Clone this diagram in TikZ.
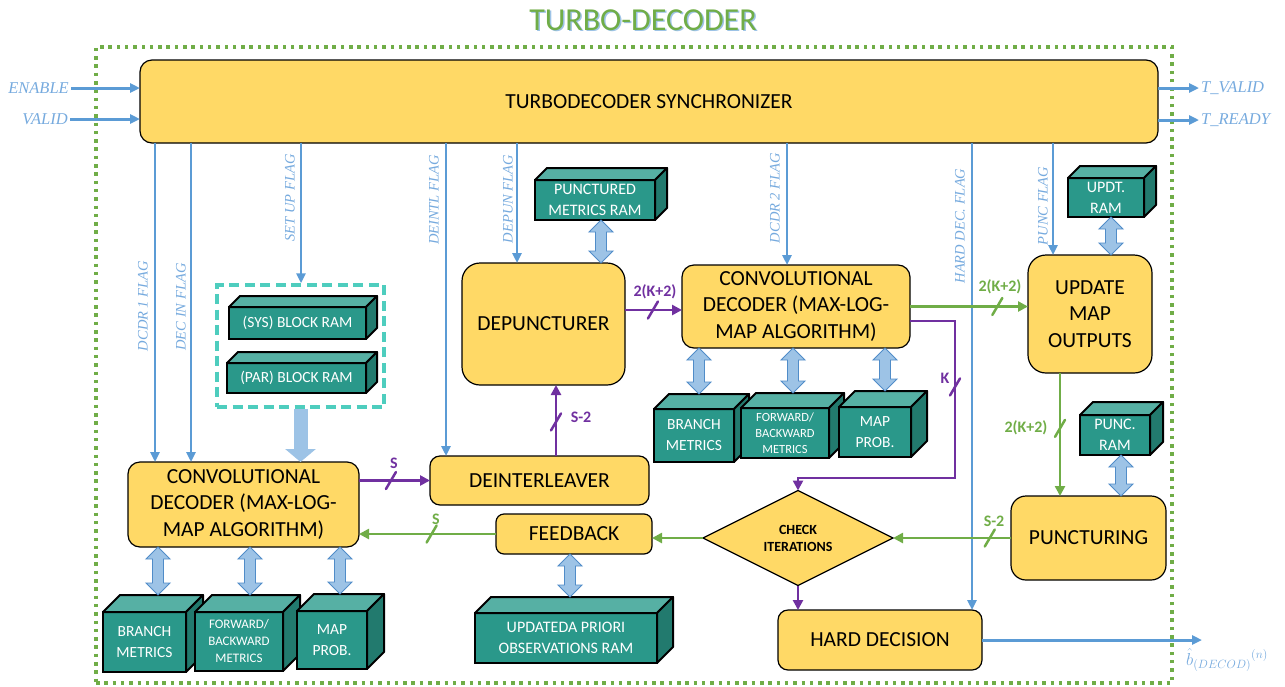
\documentclass[tikz,border=0pt]{standalone}
\usepackage{fontspec}
\newfontfamily\boxfont{Carlito}
\newfontfamily\flagfont{Liberation Serif}
\usetikzlibrary{arrows.meta,shapes.geometric,calc}

\definecolor{yfill}{RGB}{255,217,102}
\definecolor{tealF}{RGB}{42,152,138}
\definecolor{tealT}{RGB}{86,176,164}
\definecolor{tealS}{RGB}{34,122,110}
\definecolor{flagblue}{RGB}{91,155,213}
\definecolor{flagtext}{RGB}{118,170,222}
\definecolor{dblfill}{RGB}{157,195,230}
\definecolor{dbledge}{RGB}{80,140,200}
\definecolor{dpurple}{RGB}{112,48,160}
\definecolor{dgreen}{RGB}{112,173,71}
\definecolor{turq}{RGB}{78,205,190}

% 3-D RAM block: [extra options] name, centre x, centre y, width, height, depth, text
\newcommand\ramcube[8][]{%
  \node[cubefront, minimum width=#5pt, minimum height=#6pt, #1] (#2) at (#3,#4) {#8};
  \draw[cubeedge, fill=tealT] (#2.north west) -- ++(#7,-#7) -- ([shift={(#7,-#7)}]#2.north east) -- (#2.north east) -- cycle;
  \draw[cubeedge, fill=tealS] (#2.north east) -- ++(#7,-#7) -- ([shift={(#7,-#7)}]#2.south east) -- (#2.south east) -- cycle;
  \coordinate (#2-t) at ([yshift=#7pt]#2.north);
}
% vertical block arrow with heads at both ends (top point, bottom point)
\newcommand\dblarrow[2]{%
  \path[dblarr] let \p1=#1, \p2=#2 in
    (\x1,\y1) -- (\x1+12pt,\y1-12pt) -- (\x1+5.5pt,\y1-12pt) -- (\x1+5.5pt,\y2+12pt)
    -- (\x1+12pt,\y2+12pt) -- (\x1,\y2) -- (\x1-12pt,\y2+12pt) -- (\x1-5.5pt,\y2+12pt)
    -- (\x1-5.5pt,\y1-12pt) -- (\x1-12pt,\y1-12pt) -- cycle;
}
% bus-width tick across a connector
\newcommand\slashmark[2]{\draw[#1, line width=2.5pt, line cap=round] ($(#2)+(-5,8.5)$) -- ($(#2)+(5,-8.5)$);}

\begin{document}
\begin{tikzpicture}[x=1pt,y=-1pt,
  yb/.style={draw=black, line width=1.2pt, fill=yfill, rounded corners=12pt, align=center,
    font=\boxfont\fontsize{21.5}{26.5}\selectfont, inner sep=0pt, outer sep=0pt},
  cubefront/.style={draw=black, line width=2pt, fill=tealF, text=white, align=center,
    font=\boxfont\fontsize{15.5}{21}\selectfont, inner sep=0pt, outer sep=0pt},
  smallcube/.style={font=\boxfont\fontsize{13}{17}\selectfont},
  cubeedge/.style={draw=black, line width=2pt, line join=round},
  dblarr/.style={fill=dblfill, draw=dbledge, line width=0.9pt, line join=miter},
  flagline/.style={flagblue, line width=2.6pt, -{Triangle[length=10pt,width=9pt]}},
  flaglabel/.style={text=flagtext, font=\flagfont\itshape\fontsize{14.5}{14.5}\selectfont, rotate=90, inner sep=0pt},
  iolabel/.style={text=flagtext, font=\flagfont\itshape\fontsize{16.5}{16.5}\selectfont, inner sep=2pt},
  purp/.style={dpurple, line width=2.8pt, -{Triangle[length=10pt,width=10pt]}},
  grn/.style={dgreen, line width=2.8pt, -{Triangle[length=10pt,width=10pt]}},
  purplab/.style={text=dpurple, font=\boxfont\bfseries\fontsize{16}{16}\selectfont, inner sep=0pt},
  grnlab/.style={text=dgreen, font=\boxfont\bfseries\fontsize{16}{16}\selectfont, inner sep=0pt},
]
\useasboundingbox (0,0) rectangle (1285,686);

% title
\node[text=dblfill, font=\boxfont\fontsize{32}{32}\selectfont] (titleshade) at (644.5,21.5) {TURBO-DECODER};
\node[text=dgreen, font=\boxfont\fontsize{32}{32}\selectfont] (title) at (643,20) {TURBO-DECODER};

% outer frame
\node[draw=dgreen, line width=3.5pt, dash pattern=on 3.5pt off 4.8pt, minimum width=1076pt,
  minimum height=636pt, inner sep=0pt] (frame) at (634,365) {};

% synchronizer
\node[yb, minimum width=1018pt, minimum height=83pt] (sync) at (649,101.5) {TURBODECODER SYNCHRONIZER};

% inputs and outputs
\node[iolabel, anchor=east] (en) at (71,88) {ENABLE};
\node[iolabel, anchor=east] (va) at (70,119) {VALID};
\node[iolabel, anchor=west] (tv) at (1199,88) {T\_VALID};
\node[iolabel, anchor=west] (tr) at (1199,120) {T\_READY};
\draw[flagline, line width=3pt] (en.east) -- (sync.west |- en.east);
\draw[flagline, line width=3pt] (va.east) -- (sync.west |- va.east);
\draw[flagline, line width=3pt] (sync.east |- tv.west) -- (tv.west);
\draw[flagline, line width=3pt] (sync.east |- tr.west) -- (tr.west);

% processing blocks
\node[yb, minimum width=231pt, minimum height=85pt] (cd1) at (243.5,504.5) {CONVOLUTIONAL\\DECODER (MAX-LOG-\\MAP ALGORITHM)};
\node[draw=turq, line width=3.5pt, dash pattern=on 10pt off 5.5pt, minimum width=167pt, minimum height=122pt, inner sep=0pt] (grp) at (300.5,346) {};
\node[yb, rounded corners=18pt, minimum width=163pt, minimum height=122pt] (dep) at (543.5,324) {DEPUNCTURER};
\node[yb, minimum width=228pt, minimum height=83pt] (cd2) at (796,306.5) {CONVOLUTIONAL\\DECODER (MAX-LOG-\\MAP ALGORITHM)};
\node[yb, rounded corners=18pt, minimum width=124pt, minimum height=118pt] (upd) at (1090,314) {UPDATE\\MAP\\OUTPUTS};
\node[yb, rounded corners=10pt, minimum width=219pt, minimum height=49pt] (dei) at (539.5,480.5) {DEINTERLEAVER};
\node[yb, rounded corners=8pt, minimum width=156pt, minimum height=40pt] (fb) at (574,534) {FEEDBACK};
\node[diamond, draw=black, line width=1.2pt, fill=yfill, minimum width=190pt, minimum height=76pt, inner sep=0pt,
  outer sep=0pt, align=center, font=\boxfont\bfseries\fontsize{14}{17}\selectfont] (chk) at (798,538) {CHECK\\ITERATIONS};
\node[yb, rounded corners=15pt, minimum width=155pt, minimum height=84pt] (pun) at (1088.5,538) {PUNCTURING};
\node[yb, rounded corners=10pt, minimum width=204pt, minimum height=60pt] (hd) at (880,640) {HARD DECISION};

% memories
\ramcube{sys}{297.5}{323}{137}{32}{11}{(SYS) BLOCK RAM}
\ramcube{par}{296.5}{378}{139}{30}{11}{(PAR) BLOCK RAM}
\ramcube[font=\boxfont\fontsize{16}{21}\selectfont]{pmr}{595}{200}{120}{40}{12}{PUNCTURED\\METRICS RAM}
\ramcube[font=\boxfont\fontsize{16}{21}\selectfont]{updt}{1106}{197.5}{76}{39}{12}{UPDT.\\RAM}
\ramcube[font=\boxfont\fontsize{16}{21}\selectfont]{pram}{1115}{435}{70}{40}{13}{PUNC.\\RAM}
\ramcube{bm1}{144.5}{642}{83}{60}{17}{BRANCH\\METRICS}
\ramcube[smallcube]{fw1}{239}{641.5}{88}{59}{17}{FORWARD/\\BACKWARD\\METRICS}
\ramcube{mp1}{332}{640}{70}{58}{17}{MAP\\PROB.}
\ramcube{bm2}{694}{435.5}{80}{53}{15}{BRANCH\\METRICS}
\ramcube[font=\boxfont\fontsize{12.5}{16}\selectfont]{fw2}{785}{433}{88}{50}{15}{FORWARD/\\BACKWARD\\METRICS}
\ramcube{mp2}{875}{432}{72}{50}{16}{MAP\\PROB.}
\ramcube[font=\boxfont\fontsize{16}{21}\selectfont]{apr}{566}{638}{182}{50}{16}{UPDATEDA PRIORI\\OBSERVATIONS RAM}

% control flags
\draw[flagline] (sync.south -| 155,0) -- (cd1.north -| 155,0);
\draw[flagline] (sync.south -| 191,0) -- (cd1.north -| 191,0);
\draw[flagline] (sync.south -| 301,0) -- (grp.north -| 301,0);
\draw[flagline] (sync.south -| 446,0) -- (dei.north -| 446,0);
\draw[flagline] (sync.south -| 517,0) -- (dep.north -| 517,0);
\draw[flagline] (sync.south -| 787,0) -- (cd2.north -| 787,0);
\draw[flagline] (sync.south -| 972,0) -- (hd.north -| 972,0);
\draw[flagline] (sync.south -| 1053,0) -- (upd.north -| 1053,0);
\node[flaglabel] (f1) at (143,306) {DCDR 1 FLAG};
\node[flaglabel] (f2) at (181,307) {DEC IN FLAG};
\node[flaglabel] (f3) at (290,198) {SET UP FLAG};
\node[flaglabel] (f4) at (434,200) {DEINTL FLAG};
\node[flaglabel] (f5) at (508,199) {DEPUN FLAG};
\node[flaglabel] (f6) at (775,198) {DCDR 2 FLAG};
\node[flaglabel] (f7) at (960,226) {HARD DEC. FLAG};
\node[flaglabel] (f8) at (1043,206) {PUNC FLAG};

% block RAM feed
\draw[dblfill, line width=14pt, -{Triangle[length=13pt,width=30pt]}] (grp.south) -- (cd1.north -| grp.south);

% memory access arrows
\dblarrow{(cd1.south -| 158,0)}{(bm1-t -| 158,0)}
\dblarrow{(cd1.south -| 250,0)}{(fw1-t -| 250,0)}
\dblarrow{(cd1.south -| 340,0)}{(mp1-t -| 340,0)}
\dblarrow{(cd2.south -| 699,0)}{(bm2-t -| 699,0)}
\dblarrow{(cd2.south -| 793,0)}{(fw2-t -| 793,0)}
\dblarrow{(cd2.south -| 885,0)}{(mp2-t -| 885,0)}
\dblarrow{(pmr.south -| 601,0)}{(dep.north -| 601,0)}
\dblarrow{(updt.south -| 1111,0)}{(upd.north -| 1111,0)}
\dblarrow{(pram.south -| 1121,0)}{(pun.north -| 1121,0)}
\dblarrow{(fb.south -| 570,0)}{(apr-t -| 570,0)}

% data paths
\draw[purp] (cd1.east |- dei.west) -- (dei.west) coordinate[pos=0.45] (s1);
\draw[purp] (dei.north -| 556,0) -- (dep.south -| 556,0) coordinate[pos=0.48] (s2);
\draw[purp] (dep.east |- 0,310) -- (cd2.west |- 0,310) coordinate[pos=0.49] (s3);
\coordinate (kturn) at (955,478);
\draw[purp] (cd2.east |- 0,321) -| (kturn) coordinate[pos=0.71] (s4) -| (chk.north);
\draw[purp] (chk.south) -- (hd.north -| chk.south);
\draw[grn] (cd2.east) -- (upd.west |- cd2.east) coordinate[pos=0.74] (s5);
\draw[grn] (upd.south -| 1060,0) -- (pun.north -| 1060,0) coordinate[pos=0.45] (s6);
\draw[grn] (pun.west) -- (chk.east) coordinate[pos=0.18] (s7);
\draw[grn] (chk.west) -- (fb.east |- chk.west);
\draw[grn] (fb.west) -- (cd1.east |- fb.west) coordinate[pos=0.47] (s8);

\slashmark{dpurple}{s1}
\slashmark{dpurple}{s2}
\slashmark{dpurple}{s3}
\slashmark{dpurple}{s4}
\slashmark{dgreen}{s5}
\slashmark{dgreen}{s6}
\slashmark{dgreen}{s7}
\slashmark{dgreen}{s8}

\node[purplab] (l1) at (394,463) {S};
\node[purplab] (l2) at (581,417) {S-2};
\node[purplab] (l3) at (655,292) {2(K+2)};
\node[purplab] (l4) at (945,378) {K};
\node[grnlab] (l5) at (1000,287) {2(K+2)};
\node[grnlab] (l6) at (1026,428) {2(K+2)};
\node[grnlab] (l7) at (994,521) {S-2};
\node[grnlab] (l8) at (436,519) {S};

% decoded output
\coordinate (bout) at (1202,640);
\draw[flagline, line width=3pt] (hd.east) -- (bout);
\node[text=flagtext, font=\fontsize{17}{17}\selectfont, inner sep=0pt, anchor=west] (bhat) at (1186,660) {$\hat{b}_{(DECOD)}{}^{(n)}$};

\end{tikzpicture}
\end{document}
